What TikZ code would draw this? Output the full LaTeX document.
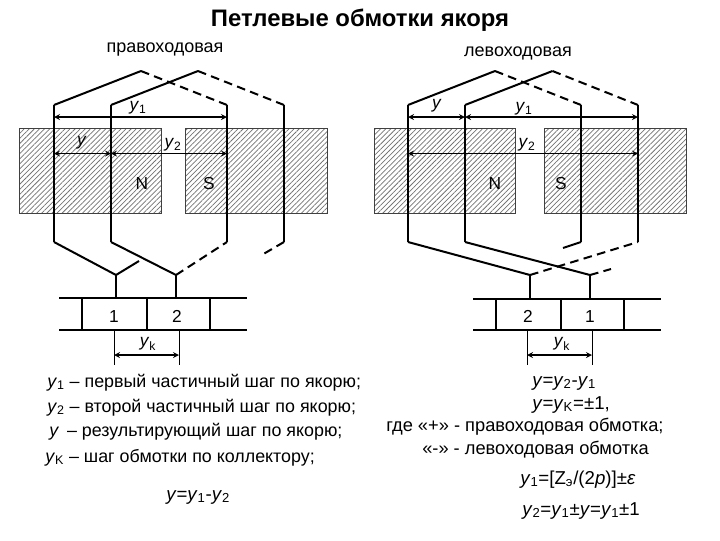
\documentclass[tikz,border=0pt]{standalone}
\usepackage{fontspec}
\setmainfont{Liberation Sans}
\usetikzlibrary{patterns.meta}
\newcommand{\ysub}[1]{\textit{y}\textsubscript{#1}}
\tikzset{
 pole/.style={draw=black!75, line width=.6pt, pattern={Lines[angle=45,distance=2.7pt,line width=.55pt]}, pattern color=black!55},
 wire/.style={line width=1.5pt, line join=miter},
 backwire/.style={line width=1.5pt, dash pattern=on 6.5pt off 4pt},
 barline/.style={line width=1.1pt},
 dimline/.style={line width=1pt, <->, >=stealth},
 extline/.style={line width=.6pt},
 lab/.style={inner sep=0pt, font=\fontsize{13pt}{15pt}\selectfont},
 digit/.style={lab, anchor=base},
 txt/.style={inner sep=0pt, anchor=base west, font=\fontsize{13.4pt}{15pt}\selectfont},
 txtwide/.style={inner sep=0pt, anchor=base west, font=\fontsize{13.7pt}{15pt}\selectfont},
 formula/.style={inner sep=0pt, anchor=base west, font=\fontsize{14pt}{16pt}\selectfont},
}
\begin{document}
\begin{tikzpicture}[x=.75pt, y=-.75pt]
\useasboundingbox (0,0) rectangle (720,540);
\node[inner sep=0pt, font=\fontsize{17.9pt}{20pt}\selectfont\bfseries] (title) at (360,20) {Петлевые обмотки якоря};
\node[inner sep=0pt, font=\fontsize{13.5pt}{15pt}\selectfont] (rightlabel) at (165,50) {правоходовая};
\node[inner sep=0pt, font=\fontsize{13.5pt}{15pt}\selectfont] (leftlabel) at (518,53) {левоходовая};

\draw[pole] (19.5,128) rectangle (161,213);
\draw[pole] (185.5,128) rectangle (327,213);
\draw[pole] (374.5,128) rectangle (515.5,213);
\draw[pole] (544.5,128) rectangle (686.5,213);

\foreach \n/\x in {La/54,Lb/111,Lc/227,Ld/284,Ra/408,Rb/465,Rc/581,Rd/638} {
 \coordinate (\n top) at (\x,105);
 \coordinate (\n bot) at (\x,242);
 \coordinate (\n up) at (\x,117);
 \coordinate (\n mid) at (\x,153.5);
 \draw[wire] (\n top) -- (\n bot);
}
\coordinate (Lp) at (141,71);
\coordinate (Lq) at (198,71);
\coordinate (Rp) at (495,71);
\coordinate (Rq) at (552.5,71);
\coordinate (Lu) at (116,275);
\coordinate (Lv) at (176,275);
\coordinate (Ru) at (530,275);
\coordinate (Rv) at (590,275);
\coordinate (Ls) at (139,261);
\coordinate (Lt) at (260,256);
\coordinate (Rs) at (563,248);
\coordinate (Rt) at (611,269);
\coordinate (Lbar1) at (116,298);
\coordinate (Lbar2) at (176,298);
\coordinate (Rbar1) at (530,299);
\coordinate (Rbar2) at (590,299);

\draw[wire] (Latop) -- (Lp);
\draw[wire] (Lbtop) -- (Lq);
\draw[wire] (Ratop) -- (Rp);
\draw[wire] (Rbtop) -- (Rq);
\draw[backwire] (Lp) -- (Lctop);
\draw[backwire] (Lq) -- (Ldtop);
\draw[backwire] (Rp) -- (Rctop);
\draw[backwire] (Rq) -- (Rdtop);

\draw[wire] (Labot) -- (Lu) -- (Ls);
\draw[wire] (Lbbot) -- (Lv);
\draw[backwire] (Lv) -- (Lcbot);
\draw[backwire] (Ldbot) -- (Lt);
\draw[wire] (Lu) -- (Lbar1);
\draw[wire] (Lv) -- (Lbar2);
\draw[wire] (Rabot) -- (Ru);
\draw[wire] (Rbbot) -- (Rv);
\draw[wire] (Rcbot) -- (Rs);
\draw[backwire] (Ru) -- (Rdbot);
\draw[backwire] (Rv) -- (Rt);
\draw[wire] (Ru) -- (Rbar1);
\draw[wire] (Rv) -- (Rbar2);

\draw[dimline] (Laup) -- (Lcup);
\draw[dimline] (Lamid) -- (Lbmid);
\draw[dimline] (Lbmid) -- (Lcmid);
\draw[dimline] (Raup) -- (Rbup);
\draw[dimline] (Rbup) -- (Rdup);
\draw[dimline] (Ramid) -- (Rdmid);

\node[lab] (ly1) at (138,108) {\ysub{1}};
\node[lab] (ly) at (82,143) {\textit{y}};
\node[lab] (ly2) at (173,145) {\ysub{2}};
\node[digit] (lN) at (142,189) {N};
\node[digit] (lS) at (209,189) {S};
\node[lab] (ry) at (437,106) {\textit{y}};
\node[lab] (ry1) at (524,109) {\ysub{1}};
\node[lab] (ry2) at (527,145) {\ysub{2}};
\node[digit] (rN) at (495,189) {N};
\node[digit] (rS) at (561,189) {S};

\draw[barline] (59,298) -- (247,298);
\draw[barline] (59,330) -- (247,330);
\draw[barline] (473,299) -- (661,299);
\draw[barline] (473,330) -- (661,330);
\foreach \x in {82,147,210} \draw[barline] (\x,298) -- (\x,330);
\foreach \x in {496,561,624} \draw[barline] (\x,299) -- (\x,330);

\node[digit] (lc1) at (114,322) {1};
\node[digit] (lc2) at (177,322) {2};
\node[digit] (rc2) at (528,322) {2};
\node[digit] (rc1) at (590,322) {1};

\coordinate (Lk1) at (114,330);
\coordinate (Lk2) at (179,330);
\coordinate (Lk1e) at (114,365);
\coordinate (Lk2e) at (179,365);
\coordinate (Lk1m) at (114,355);
\coordinate (Lk2m) at (179,355);
\coordinate (Rk1) at (527,330);
\coordinate (Rk2) at (592,330);
\coordinate (Rk1e) at (527,365);
\coordinate (Rk2e) at (592,365);
\coordinate (Rk1m) at (527,355);
\coordinate (Rk2m) at (592,355);
\draw[extline] (Lk1) -- (Lk1e);
\draw[extline] (Lk2) -- (Lk2e);
\draw[extline] (Rk1) -- (Rk1e);
\draw[extline] (Rk2) -- (Rk2e);
\draw[dimline] (Lk1m) -- (Lk2m);
\draw[dimline] (Rk1m) -- (Rk2m);
\node[lab] (lyk) at (148,344) {\ysub{k}};
\node[lab] (ryk) at (562,344) {\ysub{k}};

\node[txt] (t1) at (47,387) {\ysub{1} – первый частичный шаг по якорю;};
\node[txt] (t2) at (47,412) {\ysub{2} – второй частичный шаг по якорю;};
\node[txt] (t3) at (49,436) {\textit{y} \,– результирующий шаг по якорю;};
\node[txt] (t4) at (45,462) {\ysub{K} – шаг обмотки по коллектору;};
\node[formula] (t5) at (166,500) {\textit{y}=\ysub{1}-\ysub{2}};

\node[formula] (t6) at (532,386) {\textit{y}=\ysub{2}-\ysub{1}};
\node[formula] (t7) at (532,409) {\textit{y}=\ysub{K}=±1,};
\node[txtwide] (t8) at (386,431) {где «+» - правоходовая обмотка;};
\node[txtwide] (t9) at (422,454) {«-» - левоходовая обмотка};
\node[formula] (t10) at (520,484) {\ysub{1}=[Z\textsubscript{э}/(2\textit{p})]±\textit{ε}};
\node[formula] (t11) at (522,515) {\ysub{2}=\ysub{1}±\textit{y}=\ysub{1}±1};
\end{tikzpicture}
\end{document}
